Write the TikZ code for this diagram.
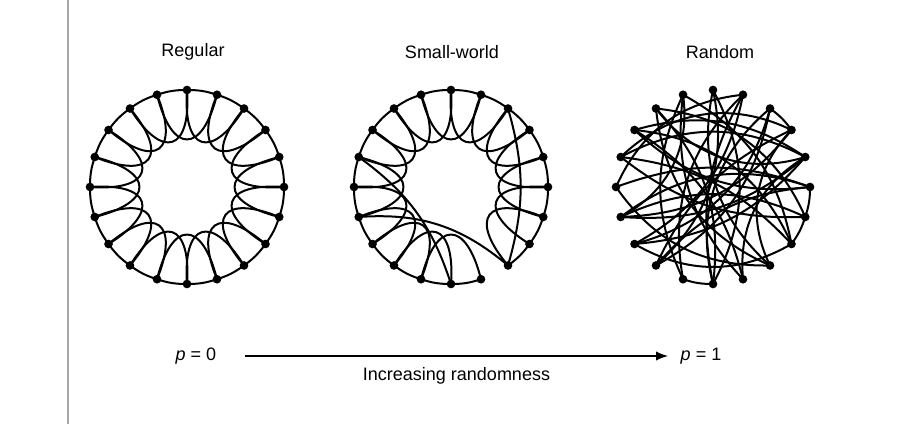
\documentclass[tikz,border=0pt]{standalone}
\usepackage{fontspec}
\setmainfont{Liberation Sans}
\usetikzlibrary{arrows.meta,calc}

\begin{document}
\begin{tikzpicture}[x=0.75pt,y=0.75pt,
font=\fontsize{13.5}{15}\selectfont,
dot/.style={circle, fill=black, inner sep=0pt, minimum size=6.5pt},
edge/.style={line width=1.5pt},
]
\useasboundingbox (0,0) rectangle (902,424);
\draw[gray!70, line width=0.8pt] (68,424) -- (68,0);

% centres of the three rings
\coordinate (rc) at (187,237);
\coordinate (sc) at (451,237);
\coordinate (nc) at (713,237);

\foreach \k in {0,...,19}{
  \node[dot] (r\k) at ($(rc)+({90+18*\k}:97)$) {};
  \node[dot] (s\k) at ($(sc)+({90+18*\k}:97)$) {};
  \node[dot] (n\k) at ($(nc)+({90+18*\k}:97)$) {};
}

% regular lattice
\foreach \k in {0,...,19}{
  \pgfmathtruncatemacro{\a}{mod(\k+1,20)}
  \pgfmathtruncatemacro{\b}{mod(\k+2,20)}
  \draw[edge] (r\k.center) to[bend right=9] (r\a.center);
  \draw[edge] (r\k.center) .. controls ($(rc)+({90+18*\k-7}:36)$) and ($(rc)+({90+18*\k+43}:36)$) .. (r\b.center);
}

% small-world
\foreach \k in {0,...,10,12,13,...,19}{
  \pgfmathtruncatemacro{\a}{mod(\k+1,20)}
  \draw[edge] (s\k.center) to[bend right=9] (s\a.center);
}
\foreach \k in {0,...,9,12,13,...,19}{
  \pgfmathtruncatemacro{\b}{mod(\k+2,20)}
  \draw[edge] (s\k.center) .. controls ($(sc)+({90+18*\k-7}:36)$) and ($(sc)+({90+18*\k+43}:36)$) .. (s\b.center);
}
\draw[edge] (s4.center) to[bend left=18] (s10.center);
\draw[edge] (s6.center) to[bend left=22] (s12.center);
\draw[edge] (s18.center) to[bend left=16] (s12.center);

% random
\draw[edge] (n17.center) to[bend right=9] (n18.center);
\draw[edge] (n13.center) to[bend right=9] (n14.center);
\draw[edge] (n14.center) to[bend right=9] (n15.center);
\draw[edge] (n9.center) to[bend right=9] (n10.center);
\foreach \i/\j/\bb in {0/8/30, 0/12/-30, 1/6/35, 1/11/-25, 1/13/25, 19/5/-30,
  19/7/25, 19/10/-20, 18/7/30, 17/4/-35, 17/6/25, 17/8/-20, 2/14/30, 2/16/-35,
  3/13/30, 3/15/-25, 3/16/25, 4/14/-20, 4/16/28, 5/15/20, 5/12/-28, 6/16/-22,
  6/14/25, 7/13/-30, 8/15/22, 8/18/-25, 9/19/28, 10/2/-25, 11/16/32, 11/3/-22,
  12/2/30, 13/4/-20, 15/6/-28, 16/7/22, 18/10/-32, 12/17/35, 9/1/25, 10/0/-28}{
  \draw[edge] (n\i.center) to[bend left=\bb] (n\j.center);
}

% titles and axis
\node (treg) at (193,372) {Regular};
\node (tsw) at (452,372) {Small-world};
\node (trnd) at (720,372) {Random};
\node (p0) at (196,68) {\textit{p} = 0};
\node (p1) at (701,68) {\textit{p} = 1};
\draw[line width=1pt, -{Latex[length=9pt,width=7pt]}] ([xshift=18pt]p0.east) -- ([xshift=-6pt]p1.west)
  node[midway, below=5pt] (lab) {Increasing randomness};
\end{tikzpicture}
\end{document}
